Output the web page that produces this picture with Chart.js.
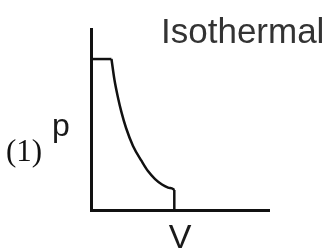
<!DOCTYPE html>
<html>
<head>
<meta charset="utf-8">
<script src="https://cdn.jsdelivr.net/npm/chart.js@4.4.0/dist/chart.umd.min.js"></script>
<style>
  html, body { margin: 0; padding: 0; background: #fff; }
  canvas { display: block; }
</style>
</head>
<body>
<canvas id="pvChart" width="330" height="251"></canvas>
<script>
// p-V diagram, values (arbitrary units, axes 0..10)
const flatV = [0, 1.15];
const flatP = [8.34, 8.34];

const curveV = [1.15, 1.32, 1.52, 1.71, 1.97, 2.36, 2.84, 3.20, 3.60, 3.99, 4.33, 4.61, 4.68];
const curveP = [8.34, 7.18, 6.19, 5.41, 4.53, 3.54, 2.71, 2.15, 1.71, 1.41, 1.24, 1.16, 1.10];

const dropV = [4.68, 4.68];
const dropP = [1.10, 0];

const chartTitle = 'Isothermal';
const xLabel = 'V';
const yLabel = 'p';
const figLabel = '(1)';

const toPoints = (xs, ys) => xs.map((x, i) => ({ x: x, y: ys[i] }));

const lineStyle = {
    borderColor: '#111',
    borderWidth: 2.5,
    pointRadius: 0,
    fill: false
};

// labels are drawn as plain canvas text around the plot
const labelsPlugin = {
    id: 'labels',
    afterDraw(chart) {
        const ctx = chart.ctx;
        ctx.save();
        ctx.textBaseline = 'alphabetic';

        ctx.fillStyle = '#333';
        ctx.font = '35px "Liberation Sans", Arial, sans-serif';
        ctx.textAlign = 'left';
        ctx.fillText(chartTitle, 161, 43);

        ctx.fillStyle = '#1a1a1a';
        ctx.font = '32px "Liberation Sans", Arial, sans-serif';
        ctx.fillText(yLabel, 52, 136);

        ctx.font = '34px "Liberation Sans", Arial, sans-serif';
        ctx.textAlign = 'center';
        ctx.fillText(xLabel, 180, 248);

        ctx.fillStyle = '#111';
        ctx.font = '31px "Liberation Serif", "Times New Roman", serif';
        ctx.textAlign = 'left';
        ctx.fillText(figLabel, 6, 161);
        ctx.restore();
    }
};

const axisOpts = {
    type: 'linear',
    min: 0,
    max: 10,
    ticks: { display: false },
    grid: { display: false, drawTicks: false },
    border: { display: true, color: '#111', width: 3 }
};

new Chart(document.getElementById('pvChart').getContext('2d'), {
    type: 'line',
    data: {
        datasets: [
            Object.assign({ data: toPoints(flatV, flatP), tension: 0 }, lineStyle),
            Object.assign({ data: toPoints(curveV, curveP), cubicInterpolationMode: 'monotone' }, lineStyle),
            Object.assign({ data: toPoints(dropV, dropP), tension: 0 }, lineStyle)
        ]
    },
    options: {
        responsive: false,
        animation: false,
        layout: { padding: { left: 91, right: 61, top: 29, bottom: 41 } },
        plugins: {
            legend: { display: false },
            tooltip: { enabled: false }
        },
        scales: {
            x: axisOpts,
            y: Object.assign({}, axisOpts)
        }
    },
    plugins: [labelsPlugin]
});
</script>
</body>
</html>
